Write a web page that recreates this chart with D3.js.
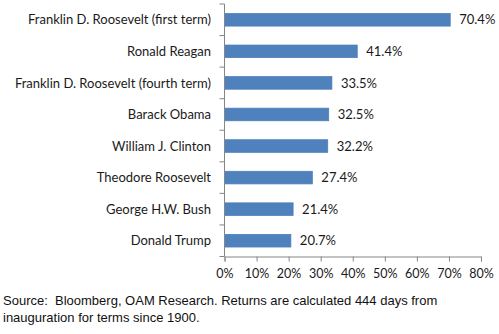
<!DOCTYPE html>
<html>
<head>
<meta charset="utf-8">
<script src="https://cdn.jsdelivr.net/npm/d3@7"></script>
<style>
  body { margin: 0; background: #fff; }
  svg { display: block; }
</style>
</head>
<body>
<div id="vis"></div>
<script>
const FRAME_WIDTH = 499;
const FRAME_HEIGHT = 334;

// data
const presidents = [
  "Franklin D. Roosevelt (first term)",
  "Ronald Reagan",
  "Franklin D. Roosevelt (fourth term)",
  "Barack Obama",
  "William J. Clinton",
  "Theodore Roosevelt",
  "George H.W. Bush",
  "Donald Trump"
];
const returns = [70.4, 41.4, 33.5, 32.5, 32.2, 27.4, 21.4, 20.7];
const xTicks = [0, 10, 20, 30, 40, 50, 60, 70, 80];
const sourceLines = [
  "Source:  Bloomberg, OAM Research. Returns are calculated 444 days from",
  "inauguration for terms since 1900."
];

const data = presidents.map((p, i) => ({name: p, value: returns[i]}));

const PLOT = {left: 224.5, right: 481, top: 4, bottom: 256.5};
const AXIS_COLOR = "#868686";
const LABEL_FONT = "Lato, 'Open Sans', sans-serif";

const svg = d3.select("#vis")
  .append("svg")
    .attr("width", FRAME_WIDTH)
    .attr("height", FRAME_HEIGHT);

const x = d3.scaleLinear()
  .domain([0, 80])
  .range([PLOT.left, PLOT.right]);

const y = d3.scaleBand()
  .domain(presidents)
  .range([PLOT.top, PLOT.bottom])
  .paddingInner(0.6)
  .paddingOuter(0.3);

// bars
svg.selectAll(".bar")
  .data(data)
  .enter()
  .append("rect")
    .attr("class", "bar")
    .attr("x", x(0))
    .attr("y", d => y(d.name))
    .attr("width", d => x(d.value) - x(0))
    .attr("height", y.bandwidth())
    .attr("fill", "#4f81bd")
    .attr("stroke", "#4a7ebb")
    .attr("stroke-width", 0.75);

// value labels
svg.selectAll(".val")
  .data(data)
  .enter()
  .append("text")
    .attr("x", d => x(d.value) + 9)
    .attr("y", d => y(d.name) + y.bandwidth() / 2)
    .attr("dy", "0.36em")
    .attr("font-family", LABEL_FONT)
    .attr("font-size", 13)
    .attr("fill", "#1a1a1a")
    .text(d => d.value.toFixed(1) + "%");

// category labels
svg.selectAll(".cat")
  .data(data)
  .enter()
  .append("text")
    .attr("x", 211)
    .attr("y", d => y(d.name) + y.bandwidth() / 2)
    .attr("dy", "0.36em")
    .attr("text-anchor", "end")
    .attr("font-family", LABEL_FONT)
    .attr("font-size", 13)
    .attr("fill", "#1a1a1a")
    .text(d => d.name);

// y axis line + ticks between categories
const step = y.step();
const yAxis = svg.append("g");
yAxis.append("line")
  .attr("x1", x(0)).attr("x2", x(0))
  .attr("y1", PLOT.top).attr("y2", PLOT.bottom)
  .attr("stroke", AXIS_COLOR);
yAxis.selectAll("line.tick")
  .data(d3.range(presidents.length + 1))
  .enter()
  .append("line")
    .attr("class", "tick")
    .attr("x1", x(0) - 5).attr("x2", x(0))
    .attr("y1", i => y(presidents[0]) - step * 0.3 + i * step)
    .attr("y2", i => y(presidents[0]) - step * 0.3 + i * step)
    .attr("stroke", AXIS_COLOR);

// x axis
const xAxis = svg.append("g")
  .attr("transform", "translate(0," + PLOT.bottom + ")")
  .call(d3.axisBottom(x)
    .tickValues(xTicks)
    .tickSize(5)
    .tickPadding(8)
    .tickFormat(d => d + "%"));
xAxis.select(".domain").attr("stroke", AXIS_COLOR);
xAxis.selectAll(".tick line").attr("stroke", AXIS_COLOR);
xAxis.selectAll(".tick text")
  .attr("font-family", LABEL_FONT)
  .attr("font-size", 12.5)
  .attr("fill", "#1a1a1a");

// source note
svg.selectAll(".src")
  .data(sourceLines)
  .enter()
  .append("text")
    .attr("x", 3)
    .attr("y", (d, i) => 305 + i * 17)
    .attr("font-family", "'Liberation Sans', Arial, sans-serif")
    .attr("font-size", 13)
    .style("white-space", "pre")
    .attr("fill", "#111")
    .text(d => d);
</script>
</body>
</html>
